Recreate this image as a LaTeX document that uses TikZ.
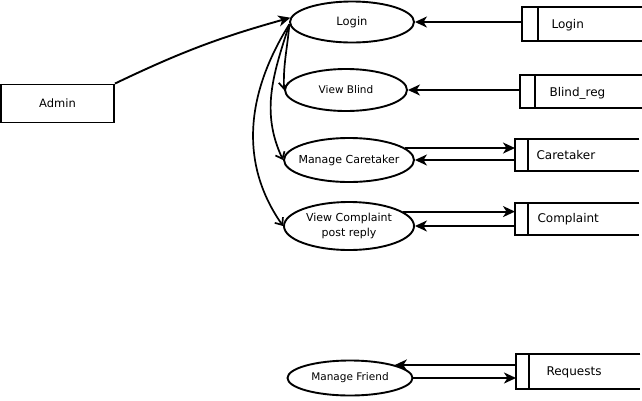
\documentclass[tikz,border=0pt]{standalone}
\usepackage{fontspec}
\setmainfont{DejaVu Sans}
\usetikzlibrary{arrows.meta,shapes.geometric}

\tikzset{
  process/.style={ellipse,draw,line width=1.9pt,inner xsep=-12pt,inner ysep=0pt},
  actor/.style={rectangle,draw,line width=1.9pt,minimum width=113pt,minimum height=38pt,font=\fontsize{11.5}{13}\selectfont},
  store/.style={rectangle,inner sep=0pt,minimum width=124pt,anchor=west},
  flow/.style={-{Stealth[length=12pt,width=11pt,inset=3.5pt]},line width=1.9pt},
  link/.style={-{Straight Barb[length=6pt,width=10pt]},line width=1.7pt}
}

\begin{document}
\begin{tikzpicture}[x=1pt,y=-1pt]
  \useasboundingbox (0,0) rectangle (642,400);

  \node[actor] (admin) at (57.5,103.5) {Admin};

  \begin{scope}[every node/.style={process}]
    \node (login)  at (352,22)  [minimum width=124pt,minimum height=41pt,font=\fontsize{11.5}{13}\selectfont] {Login};
    \node (vblind) at (346,90)  [minimum width=122pt,minimum height=42pt,font=\fontsize{10.5}{13}\selectfont] {View Blind};
    \node (mcare)  at (349,160) [minimum width=130pt,minimum height=44pt,font=\fontsize{11}{13}\selectfont] {Manage Caretaker};
    \node (vcomp)  at (349,226) [minimum width=130pt,minimum height=48pt,align=center,font=\fontsize{11}{15}\selectfont] {View Complaint\\post reply};
    \node (mfriend) at (350,378) [minimum width=125pt,minimum height=35pt,font=\fontsize{10.5}{13}\selectfont] {Manage Friend};
  \end{scope}

  % data stores
  \node[store,minimum height=34pt] (lgs) at (522,24)    {};
  \node[store,minimum height=33pt] (bls) at (520,91.5)  {};
  \node[store,minimum height=32pt] (crs) at (515,155)   {};
  \node[store,minimum height=32pt] (cps) at (515,219)   {};
  \node[store,minimum height=35pt] (rqs) at (516,371.5) {};
  \foreach \s/\d in {lgs/16,bls/15,crs/13,cps/13,rqs/13}
    \draw[line width=1.9pt] (\s.north east) -- (\s.north west) -- (\s.south west) -- (\s.south east)
      ([xshift=\d pt]\s.north west) -- ([xshift=\d pt]\s.south west);

  \begin{scope}[every node/.style={anchor=west,font=\fontsize{12}{13}\selectfont}]
    \node (lgt) at (548,25)  {Login};
    \node (blt) at (546,93)  {Blind\_reg};
    \node (crt) at (533,155) {Caretaker};
    \node (cpt) at (534,219) {Complaint};
    \node (rqt) at (543,372) {Requests};
  \end{scope}

  % flows
  \draw[flow] (admin.north east) to[bend left=5] (login.176);
  \draw[flow] (lgs.west |- login.east) -- (login.east);
  \draw[flow] (bls.west |- vblind.east) -- (vblind.east);
  \draw[flow] (mcare.12) -- (mcare.12 -| crs.west);
  \draw[flow] (crs.west |- mcare.east) -- (mcare.east);
  \draw[flow] (vcomp.15) -- (vcomp.15 -| cps.west);
  \draw[flow] (cps.west |- vcomp.east) -- (vcomp.east);
  \draw[flow] (rqs.west |- mfriend.north east) -- (mfriend.north east);
  \draw[flow] (mfriend.east) -- (mfriend.east -| rqs.west);

  \draw[link] (login.182) to[out=265,in=92] (vblind.west);
  \draw[link] (login.182) to[out=252,in=115] (mcare.west);
  \draw[link] (login.182) to[out=238,in=125] (vcomp.west);
\end{tikzpicture}
\end{document}
